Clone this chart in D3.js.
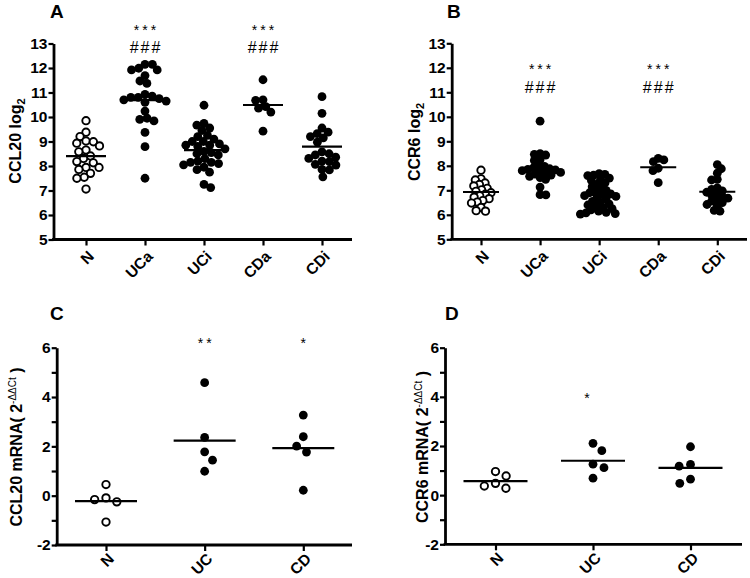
<!DOCTYPE html>
<html><head><meta charset="utf-8">
<script src="https://cdn.jsdelivr.net/npm/d3@7"></script>
<style>
body{margin:0;background:#fff}
svg{display:block}
text{font-family:"Liberation Sans",Arial,Helvetica,sans-serif}
</style>
</head><body>
<svg id="chart" width="750" height="578"></svg>
<script>
// ---------------- DATA ----------------
const catsAB = ["N", "UCa", "UCi", "CDa", "CDi"];
const catsCD = ["N", "UC", "CD"];
const yTicksAB = [5, 6, 7, 8, 9, 10, 11, 12, 13];
const yTicksCD = [-2, 0, 2, 4, 6];
const yMinorCD = [-1, 1, 3, 5];

// Panel A: CCL20 log2
const ccl20_N   = [9.85, 9.38, 9.20, 9.02, 8.93, 8.82, 8.99, 8.65, 8.58, 8.41, 8.31, 8.18, 8.13, 7.94, 7.86, 7.94, 7.50, 7.54, 7.70, 7.06];
const ccl20_UCa = [12.15, 12.15, 11.99, 11.92, 11.92, 11.69, 11.47, 11.37, 10.92, 10.85, 10.80, 10.80, 10.75, 10.70, 10.65, 10.60, 10.24, 9.90, 9.95, 9.84, 9.37, 8.79, 7.50];
const ccl20_UCi = [10.48, 9.74, 9.67, 9.55, 9.45, 9.25, 9.20, 9.10, 9.00, 9.00, 8.90, 8.85, 8.85, 8.80, 8.70, 8.60, 8.55, 8.50, 8.45, 8.30, 8.20, 8.15, 8.15, 8.10, 8.05, 7.95, 7.85, 7.75, 7.25, 7.12];
const ccl20_CDa = [11.52, 10.68, 10.70, 10.36, 10.42, 10.20, 9.42];
const ccl20_CDi = [10.83, 10.15, 9.55, 9.38, 9.32, 9.20, 9.15, 8.97, 8.58, 8.50, 8.45, 8.36, 8.31, 8.20, 8.18, 8.07, 8.04, 7.86, 7.84, 7.56];
const ccl20Means = [8.40, 10.69, 8.65, 10.49, 8.79];
const sigStarA = ["", "***", "", "***", ""];
const sigHashA = ["", "###", "", "###", ""];

// Panel B: CCR6 log2
const ccr6_N   = [7.82, 7.47, 7.42, 7.30, 7.24, 7.18, 7.08, 7.02, 6.96, 6.90, 6.84, 6.78, 6.72, 6.66, 6.58, 6.52, 6.48, 6.30, 6.17, 6.15];
const ccr6_UCa = [9.82, 8.50, 8.47, 8.44, 8.25, 8.22, 8.02, 7.98, 7.92, 7.88, 7.85, 7.83, 7.80, 7.77, 7.73, 7.70, 7.66, 7.62, 7.57, 7.52, 7.45, 7.13, 6.82, 6.81];
const ccr6_UCi = [7.68, 7.65, 7.62, 7.60, 7.50, 7.45, 7.40, 7.30, 7.25, 7.15, 7.05, 7.00, 6.95, 6.90, 6.85, 6.82, 6.78, 6.75, 6.70, 6.65, 6.55, 6.50, 6.45, 6.40, 6.35, 6.30, 6.25, 6.20, 6.15, 6.10, 6.08, 6.05, 6.03];
const ccr6_CDa = [8.24, 8.30, 8.17, 7.90, 7.80, 7.31];
const ccr6_CDi = [8.05, 7.88, 7.70, 7.45, 7.42, 7.10, 7.04, 6.98, 6.92, 6.86, 6.80, 6.74, 6.68, 6.62, 6.56, 6.50, 6.42, 6.38, 6.18, 6.15];
const ccr6Means = [6.93, 7.80, 6.81, 7.94, 6.94];
const sigStarB = ["", "***", "", "***", ""];
const sigHashB = ["", "###", "", "###", ""];

// Panel C: CCL20 mRNA (2^-ΔΔCt)
const ccl20m_N  = [0.45, -0.16, -0.09, -0.25, -1.07];
const ccl20m_UC = [4.58, 2.36, 1.78, 1.44, 0.99];
const ccl20m_CD = [3.27, 2.39, 2.01, 1.77, 0.22];
const ccl20mMeans = [-0.22, 2.23, 1.93];
const sigC = ["", "**", "*"];

// Panel D: CCR6 mRNA (2^-ΔΔCt)
const ccr6m_N  = [0.96, 0.78, 0.48, 0.28, 0.37];
const ccr6m_UC = [2.11, 1.81, 1.26, 1.12, 0.69];
const ccr6m_CD = [1.97, 1.25, 1.18, 0.65, 0.48];
const ccr6mMeans = [0.57, 1.40, 1.11];
const sigD = ["", "*", ""];

// ---------------- DRAWING ----------------
const svg = d3.select("#chart");
const FONT = '"Liberation Sans",Arial,Helvetica,sans-serif';

function swarm(values, y, diam) {
  const pts = values.map(v => ({v, y: y(v), x: 0})).sort((a, b) => b.v - a.v);
  const placed = [];
  let flip = 1;
  for (const p of pts) {
    const cands = [0];
    for (const q of placed) {
      const dy = Math.abs(q.y - p.y);
      if (dy < diam) {
        const dx = Math.sqrt(diam * diam - dy * dy);
        cands.push(q.x + dx, q.x - dx);
      }
    }
    cands.sort((a, b) => (Math.abs(a) - Math.abs(b)) || (flip * (a - b)));
    for (const c of cands) {
      if (placed.every(q => (q.x - c) ** 2 + (q.y - p.y) ** 2 >= diam * diam - 1e-3)) { p.x = c; break; }
    }
    flip = -flip;
    placed.push(p);
  }
  return pts;
}

function panel(cfg) {
  const g = svg.append("g");
  const y = d3.scaleLinear().domain(cfg.yDomain).range([cfg.yBot, cfg.yTop]);
  const x = d3.scalePoint().domain(cfg.cats).range(cfg.xRange);

  g.append("text").attr("x", cfg.letterX).attr("y", cfg.letterY)
    .attr("font-size", 19).attr("font-weight", "bold").text(cfg.letter);

  const yAxis = d3.axisLeft(y).tickValues(cfg.yTicks).tickSize(5).tickSizeOuter(0)
    .tickPadding(1).tickFormat(d => String(d));
  const ya = g.append("g").attr("transform", `translate(${cfg.axisX},0)`).call(yAxis);
  ya.select(".domain").attr("stroke", "#000").attr("stroke-width", 2.8);
  ya.selectAll(".tick line").attr("stroke", "#000").attr("stroke-width", 2.2);
  ya.selectAll(".tick text").attr("font-family", FONT).attr("font-size", 15.5)
    .attr("font-weight", "bold").attr("fill", "#000");
  if (cfg.yMinor) {
    const ym = d3.axisLeft(y).tickValues(cfg.yMinor).tickSize(5).tickFormat("");
    const ymg = g.append("g").attr("transform", `translate(${cfg.axisX},0)`).call(ym);
    ymg.select(".domain").remove();
    ymg.selectAll(".tick line").attr("stroke", "#000").attr("stroke-width", 2.2);
  }

  const xAxis = d3.axisBottom(x).tickSize(6).tickSizeOuter(0).tickFormat("");
  const xa = g.append("g").attr("transform", `translate(0,${cfg.yBot})`).call(xAxis);
  xa.select(".domain").remove();
  xa.selectAll(".tick line").attr("stroke", "#000").attr("stroke-width", 2.2);
  g.append("line").attr("x1", cfg.axisX - 1.4).attr("x2", cfg.xEnd)
    .attr("y1", cfg.yBot).attr("y2", cfg.yBot).attr("stroke", "#000").attr("stroke-width", 2.8);
  g.selectAll("text.xl").data(cfg.cats).join("text").attr("class", "xl")
    .attr("transform", d => `translate(${x(d) + 5},${cfg.yBot + cfg.xlOff}) rotate(-45)`)
    .attr("text-anchor", "end").attr("dy", "0.35em")
    .attr("font-size", 15.5).attr("font-weight", "bold").text(d => d);

  const t = g.append("text")
    .attr("transform", `translate(${cfg.titleX},${cfg.titleY}) rotate(-90)`)
    .attr("text-anchor", "middle").attr("font-size", 16).attr("font-weight", "bold");
  cfg.title(t);

  cfg.groups.forEach((vals, i) => {
    const cx = x(cfg.cats[i]);
    const pts = swarm(vals, y, cfg.diam);
    const open = i === 0;
    g.selectAll(null).data(pts).join("circle")
      .attr("cx", d => cx + d.x).attr("cy", d => d.y).attr("r", open ? 3.7 : 4.4)
      .attr("fill", open ? "#fff" : "#000").attr("stroke", "#000")
      .attr("stroke-width", open ? 1.9 : 0);
  });
  g.selectAll("line.mean").data(cfg.means).join("line").attr("class", "mean")
    .attr("x1", (d, i) => x(cfg.cats[i]) - cfg.halfW).attr("x2", (d, i) => x(cfg.cats[i]) + cfg.halfW)
    .attr("y1", d => y(d)).attr("y2", d => y(d)).attr("stroke", "#000").attr("stroke-width", 2.2);

  cfg.sig.forEach(s => {
    g.selectAll(null).data(s.labels).join("text")
      .attr("x", (d, i) => x(cfg.cats[i]) + (s.dx || 0)).attr("y", s.y)
      .attr("text-anchor", "middle").attr("font-size", s.size)
      .attr("letter-spacing", s.ls).attr("font-weight", "normal").text(d => d);
  });
}

panel({
  letter: "A", letterX: 50, letterY: 18,
  cats: catsAB, xRange: [86, 322], axisX: 53.5, xEnd: 352, xlOff: 14,
  yDomain: [5, 13], yTop: 43.5, yBot: 239.5, yTicks: yTicksAB,
  titleX: 21, titleY: 141,
  title: t => { t.append("tspan").text("CCL20 log"); t.append("tspan").attr("font-size", 11).attr("dy", 4).text("2"); },
  groups: [ccl20_N, ccl20_UCa, ccl20_UCi, ccl20_CDa, ccl20_CDi], means: ccl20Means,
  diam: 7.4, halfW: 20,
  sig: [{labels: sigStarA, y: 34.5, size: 14, ls: 3, dx: 1.5}, {labels: sigHashA, y: 53, size: 16, ls: 2, dx: 1}]
});
panel({
  letter: "B", letterX: 447, letterY: 18,
  cats: catsAB, xRange: [481, 717.3], axisX: 451.7, xEnd: 747, xlOff: 14,
  yDomain: [5, 13], yTop: 43.3, yBot: 239.3, yTicks: yTicksAB,
  titleX: 420, titleY: 142,
  title: t => { t.append("tspan").text("CCR6 log"); t.append("tspan").attr("font-size", 11).attr("dy", 4).text("2"); },
  groups: [ccr6_N, ccr6_UCa, ccr6_UCi, ccr6_CDa, ccr6_CDi], means: ccr6Means,
  diam: 5.8, halfW: 18,
  sig: [{labels: sigStarB, y: 73.5, size: 14, ls: 3, dx: 1.5}, {labels: sigHashB, y: 92.5, size: 16, ls: 2, dx: 1}]
});
panel({
  letter: "C", letterX: 50, letterY: 320,
  cats: catsCD, xRange: [106, 303.3], axisX: 56.7, xEnd: 352, xlOff: 11,
  yDomain: [-2, 6], yTop: 347.7, yBot: 545, yTicks: yTicksCD, yMinor: yMinorCD,
  titleX: 22, titleY: 447,
  title: t => {
    t.append("tspan").text("CCL20 mRNA( 2");
    t.append("tspan").attr("font-size", 10).attr("font-weight", "normal").attr("dy", -6).text("-\u0394\u0394Ct");
    t.append("tspan").attr("dy", 6).text(" )");
  },
  groups: [ccl20m_N, ccl20m_UC, ccl20m_CD], means: ccl20mMeans,
  diam: 11.5, halfW: 31,
  sig: [{labels: sigC, y: 347.5, size: 14, ls: 3, dx: 1.5}]
});
panel({
  letter: "D", letterX: 445, letterY: 320,
  cats: catsCD, xRange: [495.5, 690.5], axisX: 445, xEnd: 742, xlOff: 11,
  yDomain: [-2, 6], yTop: 347.7, yBot: 544.3, yTicks: yTicksCD, yMinor: yMinorCD,
  titleX: 428, titleY: 447,
  title: t => {
    t.append("tspan").text("CCR6 mRNA( 2");
    t.append("tspan").attr("font-size", 10).attr("font-weight", "normal").attr("dy", -6).text("-\u0394\u0394Ct");
    t.append("tspan").attr("dy", 6).text(" )");
  },
  groups: [ccr6m_N, ccr6m_UC, ccr6m_CD], means: ccr6mMeans,
  diam: 11.5, halfW: 32,
  sig: [{labels: sigD, y: 403, size: 14, ls: 0, dx: -6}]
});
</script>
</body></html>
